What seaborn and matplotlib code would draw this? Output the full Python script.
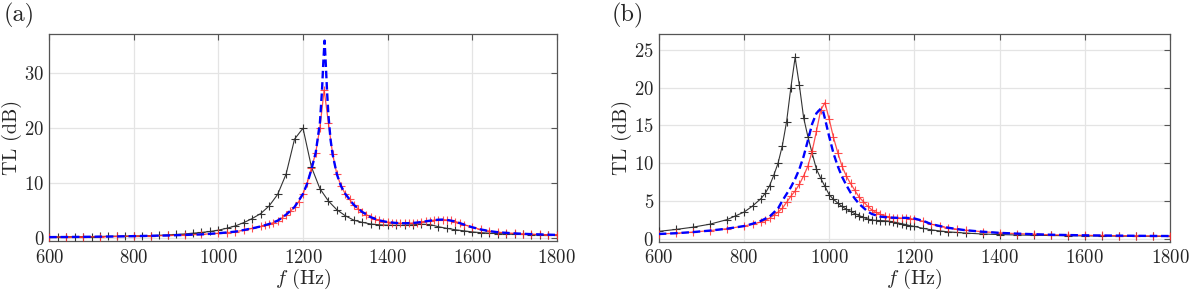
import numpy as np
import pandas as pd
import matplotlib
matplotlib.use("Agg")
import matplotlib.pyplot as plt
import seaborn as sns

# ---------------- data: panel (a) ----------------
a_black_f = [600, 620, 640, 660, 680, 700, 720, 740, 760, 780, 800, 820, 840, 860, 880, 900,
             920, 940, 960, 980, 1000, 1020, 1040, 1060, 1080, 1100, 1120, 1140, 1160, 1180,
             1200, 1220, 1240, 1260, 1280, 1300, 1320, 1340, 1360, 1380, 1400, 1420, 1440,
             1460, 1480, 1500, 1520, 1540, 1560, 1580, 1600, 1620, 1640, 1660, 1680, 1700,
             1720, 1740, 1760, 1780, 1800]
a_black_tl = [0.15, 0.16, 0.17, 0.18, 0.19, 0.2, 0.22, 0.24, 0.26, 0.28, 0.31, 0.34, 0.38, 0.42,
              0.5, 0.58, 0.68, 0.82, 0.95, 1.13, 1.37, 1.72, 2.15, 2.75, 3.5, 4.4, 5.8, 7.9,
              11.6, 18.0, 20.0, 12.9, 8.95, 6.7, 5.1, 4.0, 3.2, 2.8, 2.5, 2.35, 2.28, 2.25,
              2.27, 2.35, 2.45, 2.4, 2.0, 1.7, 1.45, 1.25, 1.05, 0.92, 0.82, 0.74, 0.68, 0.63,
              0.59, 0.56, 0.53, 0.51, 0.49]

a_red_f = [600, 640, 680, 720, 760, 800, 840, 880, 920, 960, 1000, 1020, 1040, 1060, 1080,
           1100, 1110, 1120, 1130, 1140, 1150, 1160, 1170, 1180, 1190, 1200, 1210, 1220, 1230,
           1240, 1250, 1260, 1270, 1280, 1290, 1300, 1310, 1320, 1330, 1340, 1350, 1360, 1370,
           1380, 1390, 1400, 1410, 1420, 1430, 1440, 1450, 1460, 1470, 1480, 1490, 1500, 1510,
           1520, 1530, 1540, 1550, 1560, 1570, 1580, 1600, 1620, 1640, 1660, 1680, 1700, 1720,
           1740, 1760, 1780, 1800]
a_red_tl = [0.1, 0.12, 0.15, 0.18, 0.22, 0.28, 0.34, 0.4, 0.5, 0.6, 0.8, 0.9, 1.1, 1.35, 1.7,
            2.05, 2.25, 2.5, 2.75, 3.1, 3.6, 4.2, 4.8, 5.6, 6.6, 8.0, 10.0, 12.7, 15.5,
            20.1, 27.0, 21.0, 15.3, 11.6, 9.4, 8.0, 7.0, 6.0, 5.3, 4.7, 4.2, 3.75, 3.4,
            3.15, 2.95, 2.85, 2.75, 2.68, 2.65, 2.63, 2.64, 2.68, 2.75, 2.85, 2.97, 3.1, 3.2,
            3.28, 3.3, 3.25, 3.15, 2.95, 2.7, 2.4, 1.9, 1.5, 1.2, 1.0, 0.88, 0.78, 0.7,
            0.64, 0.58, 0.54, 0.5]

a_blue_f = [600, 640, 680, 720, 760, 800, 840, 880, 920, 960, 1000, 1040, 1080, 1100, 1120,
            1140, 1160, 1180, 1200, 1210, 1220, 1230, 1240, 1245, 1248, 1251, 1254, 1257,
            1260, 1265, 1270, 1280, 1290, 1300, 1320, 1340, 1360, 1380, 1400, 1420, 1440,
            1460, 1480, 1500, 1520, 1530, 1540, 1560, 1580, 1600, 1620, 1640, 1660, 1680,
            1700, 1740, 1800]
a_blue_tl = [0.1, 0.12, 0.15, 0.18, 0.22, 0.28, 0.34, 0.4, 0.5, 0.6, 0.8, 1.1, 1.7, 2.05, 2.5,
             3.1, 4.2, 5.6, 8.0, 9.9, 12.5, 15.5, 21.0, 27.0, 32.0, 36.0, 31.5, 26.5,
             22.5, 18.0, 15.2, 11.6, 9.4, 8.0, 6.0, 4.7, 3.75, 3.15, 2.85, 2.68, 2.63,
             2.68, 2.85, 3.1, 3.28, 3.3, 3.25, 2.95, 2.4, 1.9, 1.5, 1.2, 1.0, 0.88,
             0.78, 0.64, 0.5]

# ---------------- data: panel (b) ----------------
b_black_f = [600, 640, 680, 720, 760, 780, 800, 820, 840, 850, 860, 870, 880, 890, 900, 910,
             920, 930, 940, 950, 960, 970, 980, 990, 1000, 1010, 1020, 1030, 1040, 1050, 1060,
             1070, 1080, 1090, 1100, 1110, 1120, 1130, 1140, 1150, 1160, 1170, 1180, 1190,
             1200, 1220, 1240, 1260, 1280, 1300, 1320, 1360, 1400, 1440, 1480, 1520, 1560,
             1600, 1640, 1680, 1720, 1760, 1800]
b_black_tl = [0.95, 1.2, 1.5, 1.9, 2.5, 3.0, 3.5, 4.3, 5.3, 6.0, 7.0, 8.4, 10.0, 12.3, 15.5,
              20.0, 24.0, 20.3, 16.0, 13.5, 11.3, 9.2, 8.0, 6.9, 5.8, 5.2, 4.7, 4.25, 3.9,
              3.6, 3.3, 3.05, 2.8, 2.6, 2.45, 2.4, 2.38, 2.35, 2.3, 2.2, 2.1, 1.95, 1.85,
              1.7, 1.6, 1.35, 1.15, 1.0, 0.88, 0.8, 0.72, 0.6, 0.52, 0.47, 0.43, 0.4,
              0.37, 0.35, 0.33, 0.32, 0.3, 0.3, 0.29]

b_red_f = [600, 640, 680, 720, 760, 800, 820, 840, 850, 860, 870, 880, 890, 900, 910, 920,
           930, 940, 950, 960, 970, 980, 990, 1000, 1010, 1020, 1030, 1040, 1050, 1060, 1070,
           1080, 1090, 1100, 1110, 1120, 1130, 1140, 1150, 1160, 1170, 1180, 1190, 1200,
           1220, 1240, 1260, 1280, 1300, 1320, 1360, 1400, 1440, 1480, 1520, 1560, 1600,
           1640, 1680, 1720, 1760, 1800]
b_red_tl = [0.6, 0.7, 0.85, 1.05, 1.3, 1.65, 1.9, 2.2, 2.4, 2.7, 3.1, 3.5, 4.0, 4.8, 5.6, 6.3,
            7.2, 8.3, 9.6, 11.6, 14.2, 17.0, 18.0, 15.8, 13.4, 11.4, 9.6, 8.3, 7.3, 6.4, 5.5,
            4.9, 4.3, 3.8, 3.45, 3.2, 3.0, 2.85, 2.78, 2.74, 2.72, 2.7, 2.65, 2.55,
            2.3, 1.9, 1.6, 1.4, 1.25, 1.1, 0.9, 0.75, 0.65, 0.57, 0.5, 0.46, 0.42,
            0.4, 0.38, 0.36, 0.34, 0.33]

b_blue_f = [600, 640, 680, 720, 760, 800, 820, 840, 860, 880, 890, 900, 910, 920, 930, 940,
            950, 960, 970, 980, 985, 990, 1000, 1010, 1020, 1030, 1040, 1050, 1060, 1070,
            1080, 1090, 1100, 1120, 1140, 1160, 1180, 1200, 1220, 1240, 1260, 1280, 1300,
            1320, 1360, 1400, 1440, 1480, 1520, 1560, 1600, 1640, 1680, 1720, 1760, 1800]
b_blue_tl = [0.6, 0.7, 0.85, 1.05, 1.3, 1.65, 1.95, 2.35, 2.9, 4.0, 5.0, 5.9, 6.8, 7.9, 9.2,
             10.9, 13.0, 15.2, 16.6, 17.2, 17.0, 15.9, 13.5, 11.3, 9.6, 8.2, 7.1, 6.1, 5.3,
             4.6, 4.1, 3.6, 3.25, 2.9, 2.78, 2.74, 2.74, 2.65, 2.35, 1.9, 1.65, 1.42,
             1.25, 1.1, 0.9, 0.75, 0.65, 0.57, 0.5, 0.46, 0.42, 0.4, 0.38, 0.36, 0.34, 0.33]

x_ticks = [600, 800, 1000, 1200, 1400, 1600, 1800]
a_y_ticks = [0, 10, 20, 30]
b_y_ticks = [0, 5, 10, 15, 20, 25]
panel_labels = ["(a)", "(b)"]

# ---------------- style ----------------
sns.set_style("white")
plt.rcParams.update({
    "font.family": ["serif"],
    "font.serif": ["cmr10", "DejaVu Serif"],
    "mathtext.fontset": "cm",
    "axes.formatter.use_mathtext": True,
    "axes.unicode_minus": False,
})

BLACK = "#333333"
RED = "#ff3030"
BLUE = "#0000ff"

fig = plt.figure(figsize=(12, 2.91), dpi=100)
ax_a = fig.add_axes([0.041, 0.172, 0.423, 0.711])
ax_b = fig.add_axes([0.549, 0.170, 0.426, 0.713])


def draw(ax, bf, bt, rf, rt, uf, ut, yticks, ylim):
    sns.lineplot(x=bf, y=bt, ax=ax, color=BLACK, lw=0.8, marker="+", markersize=6,
                 markeredgewidth=0.8, markeredgecolor=BLACK, sort=False, zorder=3)
    sns.lineplot(x=rf, y=rt, ax=ax, color=RED, lw=0.9, marker="+", markersize=6,
                 markeredgewidth=0.8, markeredgecolor=RED, alpha=0.85, sort=False, zorder=4)
    sns.lineplot(x=uf, y=ut, ax=ax, color=BLUE, lw=1.7, sort=False, zorder=5)
    ax.lines[-1].set_dashes([3.2, 1.6])
    ax.set_xlim(600, 1800)
    ax.set_ylim(*ylim)
    ax.set_xticks(x_ticks)
    ax.set_yticks(yticks)
    ax.grid(True, color="#e4e4e4", lw=0.9)
    ax.set_axisbelow(True)
    for s in ax.spines.values():
        s.set_color("#555555")
        s.set_linewidth(0.9)
    ax.tick_params(direction="in", length=4, width=0.8, color="#555555",
                   top=True, right=True, labelsize=13.5)
    ax.tick_params(axis="x", pad=5.5)
    ax.tick_params(axis="y", pad=3.5)
    ax.set_xlabel(r"$f$ (Hz)", fontsize=14.5, labelpad=0)
    ax.set_ylabel("TL (dB)", fontsize=14.5, labelpad=1.5)


draw(ax_a, a_black_f, a_black_tl, a_red_f, a_red_tl, a_blue_f, a_blue_tl, a_y_ticks, (-0.6, 37.2))
draw(ax_b, b_black_f, b_black_tl, b_red_f, b_red_tl, b_blue_f, b_blue_tl, b_y_ticks, (-0.4, 27.1))

fig.text(0.003, 0.99, panel_labels[0], fontsize=17.5, va="top", ha="left")
fig.text(0.510, 0.99, panel_labels[1], fontsize=17.5, va="top", ha="left")

fig.savefig("out.png", dpi=100)
